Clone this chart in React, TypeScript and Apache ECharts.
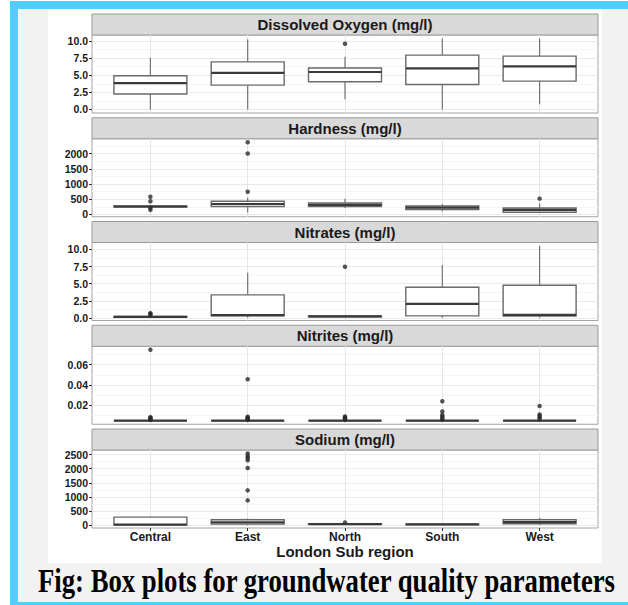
import React, { useEffect, useRef } from 'react';
import * as echarts from 'echarts';

// ---------- data ----------
const regions = ['Central', 'East', 'North', 'South', 'West'];
const panelTitles = [
  'Dissolved Oxygen (mg/l)',
  'Hardness (mg/l)',
  'Nitrates (mg/l)',
  'Nitrites (mg/l)',
  'Sodium (mg/l)',
];

// each row: [region index, lower whisker, Q1, median, Q3, upper whisker]
const oxygenBoxes = [
  [0, 0.0, 2.26, 3.85, 4.93, 7.54],
  [1, 0.0, 3.55, 5.33, 6.95, 10.25],
  [2, 1.48, 4.04, 5.47, 6.06, 7.7],
  [3, 0.0, 3.64, 6.01, 7.93, 10.35],
  [4, 0.74, 4.14, 6.3, 7.78, 10.35],
];
const oxygenOutliers = [[2, 9.6]];

const hardnessBoxes = [
  [0, 232, 242, 262, 282, 300],
  [1, 65, 260, 344, 432, 552],
  [2, 214, 260, 312, 377, 520],
  [3, 107, 162, 227, 280, 344],
  [4, 40, 75, 150, 214, 367],
];
const hardnessOutliers = [
  [0, 584], [0, 432], [0, 214], [0, 150],
  [1, 747], [1, 2000], [1, 2370],
  [4, 520],
];

const nitratesBoxes = [
  [0, 0.05, 0.12, 0.18, 0.25, 0.35],
  [1, 0.05, 0.33, 0.42, 3.38, 6.61],
  [2, 0.1, 0.2, 0.25, 0.32, 0.4],
  [3, 0.05, 0.33, 2.07, 4.49, 7.72],
  [4, 0.05, 0.29, 0.48, 4.78, 10.48],
];
const nitratesOutliers = [
  [0, 0.5], [0, 0.62], [0, 0.72],
  [2, 7.48],
];

const nitritesBoxes = [
  [0, 0.005, 0.005, 0.005, 0.005, 0.005],
  [1, 0.005, 0.005, 0.005, 0.005, 0.005],
  [2, 0.005, 0.005, 0.005, 0.005, 0.005],
  [3, 0.005, 0.005, 0.005, 0.005, 0.005],
  [4, 0.005, 0.005, 0.005, 0.005, 0.005],
];
const nitritesOutliers = [
  [0, 0.0745], [0, 0.0085], [0, 0.0078], [0, 0.007], [0, 0.0063], [0, 0.0058],
  [1, 0.0457], [1, 0.0088], [1, 0.008], [1, 0.0072], [1, 0.0065], [1, 0.0058],
  [2, 0.0092], [2, 0.0082], [2, 0.0074], [2, 0.0066], [2, 0.0058],
  [3, 0.024], [3, 0.014], [3, 0.0105], [3, 0.0088], [3, 0.0072], [3, 0.006],
  [4, 0.0194], [4, 0.011], [4, 0.0095], [4, 0.008], [4, 0.0066],
];

const sodiumBoxes = [
  [0, 0, 14, 20, 284, 300],
  [1, 0, 36, 96, 192, 240],
  [2, 15, 30, 38, 50, 70],
  [3, 10, 18, 25, 32, 45],
  [4, 10, 50, 107, 192, 263],
];
const sodiumOutliers = [
  [1, 877], [1, 1232], [1, 2024], [1, 2298], [1, 2380], [1, 2450], [1, 2535],
  [2, 96],
];

// axis ranges and tick labels
const oxygenRange = [-0.52, 10.87];
const hardnessRange = [-75, 2486];
const nitratesRange = [-0.35, 11.0];
const nitritesRange = [0.0015, 0.078];
const sodiumRange = [-100, 2660];

const oxygenTicks = [0, 2.5, 5, 7.5, 10];
const oxygenMinor = [1.25, 3.75, 6.25, 8.75];
const hardnessTicks = [0, 500, 1000, 1500, 2000];
const hardnessMinor = [250, 750, 1250, 1750, 2250];
const nitratesTicks = [0, 2.5, 5, 7.5, 10];
const nitratesMinor = [1.25, 3.75, 6.25, 8.75];
const nitritesTicks = [0.02, 0.04, 0.06];
const nitritesMinor = [0.01, 0.03, 0.05, 0.07];
const sodiumTicks = [0, 500, 1000, 1500, 2000, 2500];
const sodiumMinor = [250, 750, 1250, 1750, 2250];

const regionTicks = [0, 1, 2, 3, 4];
const xTitle = 'London Sub region';
const caption = 'Fig: Box plots for groundwater quality parameters';

// ---------- layout ----------
const FONT = '"Liberation Sans", Arial, sans-serif';
const PANEL_LEFT = 92;
const PANEL_WIDTH = 506;
const FIRST_TOP = 35;
const STEP = 103.75;
const PANEL_H = 78;
const STRIP_H = 21;

const panels = [
  { boxes: oxygenBoxes, outliers: oxygenOutliers, range: oxygenRange, ticks: oxygenTicks, minor: oxygenMinor, dec: 1 },
  { boxes: hardnessBoxes, outliers: hardnessOutliers, range: hardnessRange, ticks: hardnessTicks, minor: hardnessMinor, dec: 0 },
  { boxes: nitratesBoxes, outliers: nitratesOutliers, range: nitratesRange, ticks: nitratesTicks, minor: nitratesMinor, dec: 1 },
  { boxes: nitritesBoxes, outliers: nitritesOutliers, range: nitritesRange, ticks: nitritesTicks, minor: nitritesMinor, dec: 2 },
  { boxes: sodiumBoxes, outliers: sodiumOutliers, range: sodiumRange, ticks: sodiumTicks, minor: sodiumMinor, dec: 0 },
];

const renderBox = (params: any, api: any) => {
  const x = api.value(0);
  const lo = api.coord([x, api.value(1)]);
  const q1 = api.coord([x, api.value(2)]);
  const md = api.coord([x, api.value(3)]);
  const q3 = api.coord([x, api.value(4)]);
  const hi = api.coord([x, api.value(5)]);
  const half = api.size([0.75, 0])[0] / 2;
  const cx = md[0];
  const whisker = { stroke: '#747474', lineWidth: 1.2 };
  return {
    type: 'group',
    children: [
      { type: 'line', shape: { x1: cx, y1: q3[1], x2: cx, y2: hi[1] }, style: whisker },
      { type: 'line', shape: { x1: cx, y1: q1[1], x2: cx, y2: lo[1] }, style: whisker },
      {
        type: 'rect',
        shape: { x: cx - half, y: q3[1], width: half * 2, height: Math.max(q1[1] - q3[1], 0) },
        style: { fill: '#ffffff', stroke: '#6a6a6a', lineWidth: 1.4 },
      },
      {
        type: 'line',
        shape: { x1: cx - half, y1: md[1], x2: cx + half, y2: md[1] },
        style: { stroke: '#3a3a3a', lineWidth: 2.2 },
      },
    ],
  };
};

export default function App() {
  const ref = useRef<HTMLDivElement>(null);

  useEffect(() => {
    if (!ref.current) return;
    const chart = echarts.init(ref.current, undefined, { renderer: 'svg' });
    const last = panels.length - 1;

    const grid = panels.map((_, i) => ({
      left: PANEL_LEFT,
      top: FIRST_TOP + i * STEP,
      width: PANEL_WIDTH,
      height: PANEL_H,
      show: true,
      backgroundColor: '#ffffff',
      borderColor: '#a3a3a3',
      borderWidth: 1,
      containLabel: false,
      outerBoundsMode: 'none',
    }));

    const xAxis = panels.map((_, i) => ({
      type: 'value',
      gridIndex: i,
      position: 'bottom',
      min: -0.6,
      max: 4.6,
      axisLine: { show: false, onZero: false },
      axisTick: { show: i === last, length: 3, customValues: regionTicks, lineStyle: { color: '#333', width: 1 } },
      axisLabel: {
        show: i === last,
        customValues: regionTicks,
        formatter: (v: number) => regions[Math.round(v)] ?? '',
        margin: 3,
        fontFamily: FONT,
        fontWeight: 'bold',
        fontSize: 12,
        color: '#1a1a1a',
      },
      splitLine: { show: true, lineStyle: { color: '#e6e6e6', width: 1 } },
      name: i === last ? xTitle : '',
      nameLocation: 'middle',
      nameGap: 16,
      nameTextStyle: { fontFamily: FONT, fontWeight: 'bold', fontSize: 15, color: '#1a1a1a' },
    }));

    const yAxis: any[] = [];
    panels.forEach((p, i) => {
      yAxis.push({
        type: 'value',
        gridIndex: i,
        position: 'left',
        min: p.range[0],
        max: p.range[1],
        axisLine: { show: false, onZero: false },
        axisTick: { show: true, length: 3, customValues: p.ticks, lineStyle: { color: '#333', width: 1 } },
        axisLabel: {
          customValues: p.ticks,
          formatter: (v: number) => v.toFixed(p.dec),
          margin: 4,
          fontFamily: FONT,
          fontWeight: 'bold',
          fontSize: 10.5,
          color: '#1a1a1a',
        },
        splitLine: { show: true, lineStyle: { color: '#e9e9e9', width: 1 } },
      });
      yAxis.push({
        type: 'value',
        gridIndex: i,
        position: 'right',
        min: p.range[0],
        max: p.range[1],
        axisLine: { show: false, onZero: false },
        axisTick: { show: false, customValues: p.minor },
        axisLabel: { show: false, customValues: p.minor },
        splitLine: { show: true, lineStyle: { color: '#f5f5f5', width: 1 } },
      });
    });

    const series: any[] = [];
    panels.forEach((p, i) => {
      series.push({
        type: 'custom',
        xAxisIndex: i,
        yAxisIndex: 2 * i,
        data: p.boxes,
        encode: { x: 0, y: [1, 2, 3, 4, 5] },
        renderItem: renderBox,
        silent: true,
        z: 2,
      });
      series.push({
        type: 'scatter',
        xAxisIndex: i,
        yAxisIndex: 2 * i,
        data: p.outliers,
        symbolSize: 4.5,
        itemStyle: { color: '#2b2b2b' },
        silent: true,
        z: 3,
      });
    });

    const graphic: any[] = [];
    panelTitles.forEach((t, i) => {
      const top = FIRST_TOP + i * STEP;
      graphic.push({
        type: 'rect',
        shape: { x: PANEL_LEFT, y: top - STRIP_H, width: PANEL_WIDTH, height: STRIP_H },
        style: { fill: '#d9d9d9', stroke: '#9a9a9a', lineWidth: 1 },
      });
      graphic.push({
        type: 'text',
        x: PANEL_LEFT + PANEL_WIDTH / 2,
        y: top - STRIP_H / 2,
        style: {
          text: t,
          fontFamily: FONT,
          fontWeight: 'bold',
          fontSize: 15,
          fill: '#1a1a1a',
          align: 'center',
          verticalAlign: 'middle',
        },
      });
    });
    graphic.push({
      type: 'text',
      x: 326.5,
      y: 581,
      scaleY: 1.25,
      style: {
        text: caption,
        fontFamily: '"Liberation Serif", "Times New Roman", serif',
        fontWeight: 'bold',
        fontSize: 26.7,
        fill: '#000000',
        align: 'center',
        verticalAlign: 'middle',
      },
    });

    chart.setOption({
      animation: false,
      grid,
      xAxis,
      yAxis,
      series,
      graphic,
    } as any);

    return () => chart.dispose();
  }, []);

  return (
    <div style={{ position: 'fixed', left: 0, top: 0, width: 628, height: 605, background: '#ffffff', overflow: 'hidden' }}>
      <div style={{ position: 'absolute', left: 10, top: 1, width: 630, height: 620, background: '#4dcfff' }} />
      <div style={{ position: 'absolute', left: 18, top: 9.3, width: 620, height: 592.4, background: '#f2f2f2' }} />
      <div style={{ position: 'absolute', left: 48.3, top: 9.3, width: 553.7, height: 554, background: '#ffffff' }} />
      <div ref={ref} style={{ position: 'absolute', left: 0, top: 0, width: 628, height: 605 }} />
    </div>
  );
}
